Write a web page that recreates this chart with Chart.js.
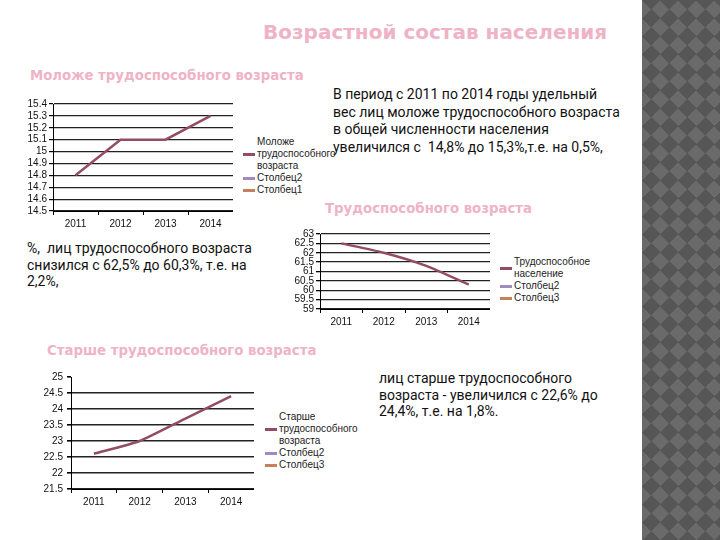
<!DOCTYPE html>
<html lang="ru">
<head>
<meta charset="UTF-8">
<title>Возрастной состав населения</title>
<script src="https://cdn.jsdelivr.net/npm/chart.js"></script>
<style>
  body {
    margin: 0;
    width: 720px;
    height: 540px;
    position: relative;
    overflow: hidden;
    background: #fff;
    font-family: Roboto, sans-serif;
  }
  .strip {
    position: absolute;
    left: 642px;
    top: 0;
    width: 78px;
    height: 540px;
    background: conic-gradient(from 45deg, #6a6a6a 25%, #565656 0 50%, #6a6a6a 0 75%, #565656 0) 0 0 / 18px 18px;
  }
  .title {
    position: absolute;
    left: 263px;
    top: 20px;
    font: bold 20px 'DejaVu Sans', sans-serif;
    color: #efb3c6;
    white-space: nowrap;
  }
  .sub {
    position: absolute;
    font: bold 13.3px 'DejaVu Sans', sans-serif;
    color: #efb3c6;
    white-space: nowrap;
  }
  .txt {
    position: absolute;
    font-size: 14px;
    color: #111;
    white-space: nowrap;
  }
  canvas { position: absolute; }
  .legend {
    position: absolute;
    font: 10px 'Liberation Sans', sans-serif;
    color: #222;
    line-height: 12px;
  }
  .legend .row { display: flex; align-items: center; }
  .legend .mark { width: 12px; height: 3px; margin-right: 2px; flex: none; }
  .legend .lbl { width: 84px; }
</style>
</head>
<body>
  <div class="strip"></div>
  <div class="title">Возрастной состав населения</div>

  <div class="sub" style="left:30px; top:68px;">Моложе трудоспособного возраста</div>
  <div class="sub" style="left:325px; top:201px;">Трудоспособного возраста</div>
  <div class="sub" style="left:47px; top:343px;">Старше трудоспособного возраста</div>

  <div class="txt" style="left:333px; top:86px; line-height:17.5px;">
    В период с 2011 по 2014 годы удельный<br>
    вес лиц моложе трудоспособного возраста<br>
    в общей численности населения<br>
    увеличился с &nbsp;14,8% до 15,3%,т.е. на 0,5%,
  </div>
  <div class="txt" style="left:27px; top:240px; line-height:16.5px;">
    %, &nbsp;лиц трудоспособного возраста<br>
    снизился с 62,5% до 60,3%, т.е. на<br>
    2,2%,
  </div>
  <div class="txt" style="left:379px; top:370px; line-height:16.5px;">
    лиц старше трудоспособного<br>
    возраста - увеличился с 22,6% до<br>
    24,4%, т.е. на 1,8%.
  </div>

  <canvas id="c1" width="213" height="137" style="left:20px; top:96px;"></canvas>
  <canvas id="c2" width="200" height="105" style="left:290px; top:226px;"></canvas>
  <canvas id="c3" width="218" height="144" style="left:36px; top:367px;"></canvas>

  <div class="legend" id="l1" style="left:243px; top:136px;"></div>
  <div class="legend" id="l2" style="left:500px; top:256px;"></div>
  <div class="legend" id="l3" style="left:265px; top:411px;"></div>

<script>
  // данные
  const years = ['2011', '2012', '2013', '2014'];
  const youngValues = [14.8, 15.1, 15.1, 15.3];
  const workingValues = [62.5, 62.0, 61.3, 60.3];
  const olderValues = [22.6, 23.0, 23.7, 24.4];

  const youngTicks = [14.5, 14.6, 14.7, 14.8, 14.9, 15, 15.1, 15.2, 15.3, 15.4];
  const workingTicks = [59, 59.5, 60, 60.5, 61, 61.5, 62, 62.5, 63];
  const olderTicks = [21.5, 22, 22.5, 23, 23.5, 24, 24.5, 25];

  Chart.defaults.font.family = "'Liberation Sans', sans-serif";
  Chart.defaults.font.size = 10;
  Chart.defaults.animation = false;

  function htmlLegend(chart, legendId) {
    const box = document.getElementById(legendId);
    chart.data.datasets.forEach(ds => {
      const row = document.createElement('div');
      row.className = 'row';
      const mark = document.createElement('span');
      mark.className = 'mark';
      mark.style.background = ds.borderColor;
      const lbl = document.createElement('span');
      lbl.className = 'lbl';
      lbl.textContent = ds.label;
      row.appendChild(mark);
      row.appendChild(lbl);
      box.appendChild(row);
    });
  }

  function lineChart(id, legendId, names, values, ticks, cfg) {
    const chart = new Chart(document.getElementById(id), {
      type: 'line',
      data: {
        labels: years,
        datasets: [
          { label: names[0], data: values, borderColor: '#944c66', borderWidth: 2.5,
            pointRadius: 0, tension: cfg.tension },
          { label: names[1], data: [], borderColor: '#a08bc0' },
          { label: names[2], data: [], borderColor: '#c4825c' }
        ]
      },
      options: {
        responsive: false,
        devicePixelRatio: 1,
        layout: { padding: 0 },
        plugins: { legend: { display: false }, tooltip: { enabled: false } },
        scales: {
          x: {
            offset: true,
            border: { display: true, color: '#000', width: 1 },
            grid: { offset: true, drawOnChartArea: false, tickColor: '#000', tickLength: 4 },
            ticks: { padding: 3, color: '#111' }
          },
          y: {
            min: ticks[0],
            max: ticks[ticks.length - 1],
            afterBuildTicks: s => { s.ticks = ticks.map(v => ({ value: v })); },
            afterFit: s => { s.width = cfg.yWidth; },
            border: { display: true, color: '#000', width: 1 },
            grid: {
              color: c => (cfg.hideTop && c.index === ticks.length - 1) ? 'rgba(0,0,0,0)' : '#222',
              lineWidth: cfg.gridWidth,
              tickColor: '#000',
              tickLength: 4
            },
            ticks: { autoSkip: false, padding: cfg.tickPad, color: '#111', callback: v => String(v) }
          }
        }
      }
    });
    htmlLegend(chart, legendId);
    return chart;
  }

  lineChart('c1', 'l1', ['Моложе трудоспособного возраста', 'Столбец2', 'Столбец1'],
    youngValues, youngTicks, { yWidth: 33, tickPad: 2, gridWidth: 1.2, tension: 0, hideTop: false });
  lineChart('c2', 'l2', ['Трудоспособное население', 'Столбец2', 'Столбец3'],
    workingValues, workingTicks, { yWidth: 30, tickPad: 2, gridWidth: 1.3, tension: 0.2, hideTop: false });
  lineChart('c3', 'l3', ['Старше трудоспособного возраста', 'Столбец2', 'Столбец3'],
    olderValues, olderTicks, { yWidth: 35, tickPad: 4, gridWidth: 1.6, tension: 0.2, hideTop: true });
</script>
</body>
</html>
